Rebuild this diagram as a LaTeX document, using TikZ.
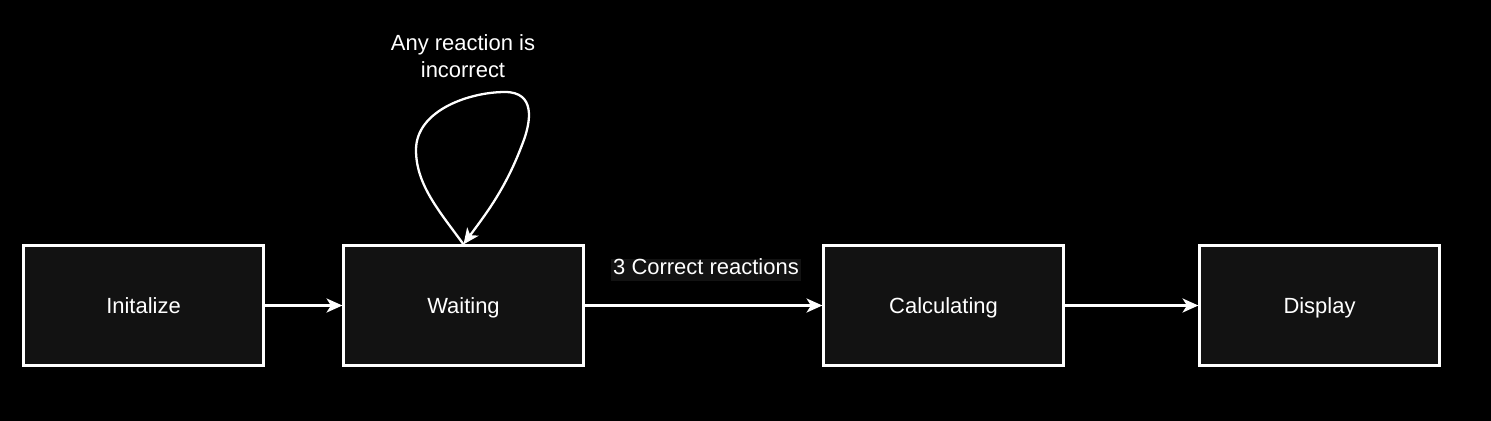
\documentclass[tikz,border=0pt]{standalone}
\usepackage{fontspec}
\setmainfont{Liberation Sans}
\usetikzlibrary{arrows.meta}
\definecolor{boxfill}{HTML}{121212}
\tikzset{
  px/.style={x=0.02cm,y=-0.02cm},
  stbox/.style={draw=white, fill=boxfill, line width=1.3pt, minimum width=240*0.02cm, minimum height=120*0.02cm, text=white, font=\fontsize{12.5}{15}\selectfont, inner sep=0pt, text height=1.05em, text depth=0.17em},
  conn/.style={draw=white, line width=1.3pt, -{Stealth[length=9pt,width=8pt,inset=2.5pt]}},
  lbl/.style={text=white, font=\fontsize{12.5}{15}\selectfont},
}
\begin{document}
\begin{tikzpicture}[px]
\useasboundingbox (0,0) rectangle (1491,420);
\fill[black] (-5,-5) rectangle (1496,425);
\node[stbox] (init) at (143.5,305.5) {Initalize};
\node[stbox] (wait) at (463.5,305.5) {Waiting};
\node[stbox] (calc) at (943.5,305.5) {Calculating};
\node[stbox] (disp) at (1319.5,305.5) {Display};
\draw[conn] (init) -- (wait);
\draw[conn] (wait) -- (calc);
\draw[conn] (calc) -- (disp);
\node[lbl, fill=boxfill, inner sep=1.5pt, text height=0.72em, text depth=0.21em] (cr) at (706,270) {3 Correct reactions};
\coordinate (lp1) at (416,150);
\coordinate (lp2) at (505,92);
\coordinate (lp3) at (522,145);
\draw[conn] (wait.north) .. controls (440,212) and (416,185) .. (lp1)
  .. controls (416,110) and (470,92) .. (lp2)
  .. controls (535,92) and (532,120) .. (lp3)
  .. controls (505,190) and (485,215) .. (wait.north);
\node[lbl, align=center] (loop) at (463,56) {Any reaction is\\[0pt]incorrect};
\end{tikzpicture}
\end{document}
